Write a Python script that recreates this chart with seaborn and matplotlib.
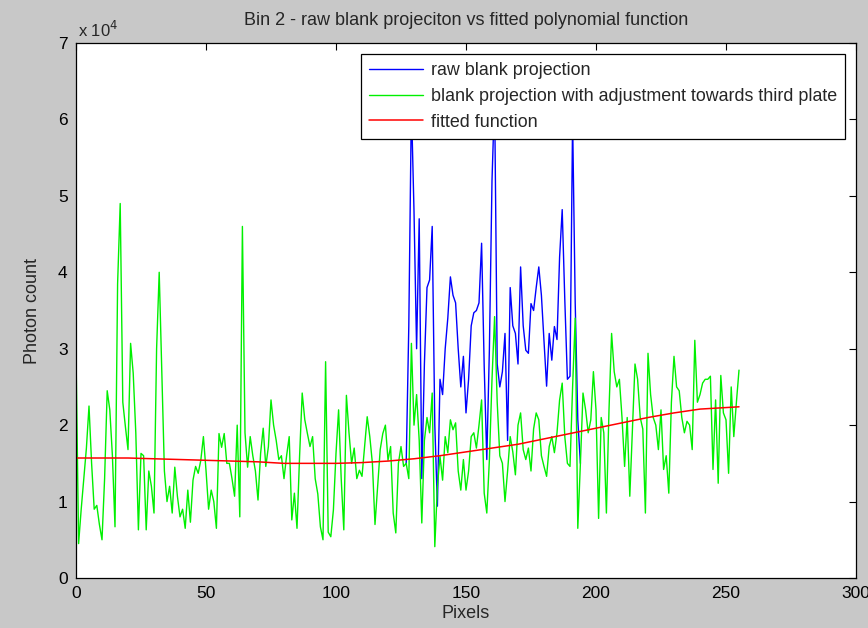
import numpy as np
import pandas as pd
import matplotlib
matplotlib.use("Agg")
import matplotlib.pyplot as plt
import seaborn as sns

# values in units of 1e4 photon counts, one per pixel
green_e4 = [
    2.95, 0.45, 0.9, 1.3, 1.7, 2.25, 1.5, 0.9, 0.95, 0.7,
    0.5, 1.3, 2.45, 2.2, 1.6, 0.67, 3.85, 4.9, 2.3, 1.98,
    1.68, 3.07, 2.68, 1.9, 0.63, 1.63, 1.6, 0.63, 1.4, 1.2,
    0.85, 3.0, 4.0, 2.7, 1.4, 1.0, 1.2, 0.85, 1.45, 1.07,
    0.8, 0.9, 0.65, 1.15, 0.73, 1.28, 1.46, 1.37, 1.54, 1.85,
    1.41, 0.9, 1.15, 1.0, 0.65, 1.89, 1.71, 1.89, 1.5, 1.5,
    1.3, 1.07, 2.0, 0.8, 4.6, 1.9, 1.45, 1.85, 1.6, 1.4,
    1.02, 1.63, 1.96, 1.46, 1.72, 2.33, 2.0, 1.8, 1.55, 1.6,
    1.3, 1.6, 1.85, 0.76, 1.11, 0.65, 1.6, 2.42, 2.07, 1.89,
    1.72, 1.85, 1.3, 1.1, 0.67, 0.5, 2.83, 0.6, 0.54, 0.89,
    1.63, 2.2, 1.3, 0.63, 2.39, 1.9, 1.5, 1.7, 1.3, 1.41,
    1.33, 1.72, 2.11, 1.85, 1.5, 0.7, 1.2, 1.68, 1.89, 2.0,
    1.54, 1.72, 0.85, 0.59, 1.5, 1.72, 1.46, 1.5, 1.3, 3.07,
    2.0, 2.4, 1.8, 0.72, 1.8, 2.1, 1.9, 2.42, 0.41, 1.2,
    1.59, 1.28, 1.85, 1.64, 2.07, 1.94, 2.03, 1.4, 1.15, 1.55,
    1.15, 1.4, 1.85, 1.9, 1.7, 2.0, 2.33, 1.11, 0.85, 1.55,
    2.6, 3.42, 2.3, 1.6, 1.5, 1.0, 1.4, 1.85, 1.65, 1.35,
    2.0, 2.16, 1.68, 1.55, 1.7, 1.4, 1.95, 2.16, 2.07, 1.6,
    1.46, 1.33, 1.72, 1.85, 1.64, 1.9, 2.33, 2.55, 1.85, 1.5,
    1.46, 2.5, 3.4, 0.65, 1.5, 2.42, 2.2, 1.9, 2.07, 2.7,
    2.2, 0.78, 2.1, 1.9, 0.85, 2.2, 3.2, 2.7, 2.5, 2.6,
    2.1, 1.46, 2.1, 1.07, 1.95, 2.8, 2.6, 2.1, 1.95, 0.85,
    2.94, 2.4, 2.1, 2.0, 1.68, 2.2, 1.42, 1.6, 1.11, 2.3,
    2.9, 2.5, 2.45, 2.1, 1.9, 2.05, 2.0, 1.68, 3.11, 2.3,
    2.4, 2.55, 2.6, 2.6, 2.64, 1.42, 2.33, 1.24, 2.65, 2.16,
    2.07, 1.37, 2.5, 1.85, 2.3, 2.72,
]

# raw projection where it differs from the adjusted one (pixels 128..193)
blue_start = 128
blue_mid_e4 = [
    3.3, 6.2, 4.8, 3.0, 4.7, 1.3, 2.8, 3.8, 3.9, 4.6,
    2.0, 0.94, 2.6, 2.4, 3.0, 3.4, 3.94, 3.7, 3.6, 3.0,
    2.5, 2.9, 2.16, 2.6, 3.3, 3.47, 3.5, 3.6, 4.38, 2.77,
    1.55, 3.0, 5.2, 6.3, 2.8, 2.5, 2.7, 3.2, 1.8, 3.8,
    3.3, 3.2, 2.8, 4.07, 3.3, 2.98, 2.94, 3.59, 3.5, 3.8,
    4.07, 3.7, 3.1, 2.51, 3.2, 2.85, 3.29, 3.12, 4.2, 4.82,
    3.64, 2.6, 2.64, 6.0, 3.6, 2.07,
]

# fitted polynomial read at a few pixels
fit_x = [0, 10, 20, 30, 40, 50, 60, 70, 80, 90, 100, 110, 120, 130,
         140, 150, 160, 170, 180, 190, 200, 210, 220, 230, 240, 250, 255]
fit_e4 = [1.57, 1.57, 1.57, 1.56, 1.55, 1.54, 1.53, 1.52, 1.50, 1.50,
          1.50, 1.51, 1.53, 1.56, 1.60, 1.65, 1.70, 1.75, 1.82, 1.89,
          1.96, 2.03, 2.10, 2.16, 2.21, 2.23, 2.24]

labels = ["raw blank projection",
          "blank projection with adjustment towards third plate",
          "fitted function"]

pixels = np.arange(len(green_e4))
green = np.array(green_e4) * 1e4
blue_end = blue_start + len(blue_mid_e4)

# raw curve equals the adjusted one outside the plate region (hidden under green),
# so only the part that differs (plus the joins) is drawn
raw_df = pd.DataFrame({
    "pixel": pixels[blue_start - 1:blue_end + 1],
    "raw": np.concatenate([[green[blue_start - 1]], np.array(blue_mid_e4) * 1e4,
                           [green[blue_end]]]),
})
adj_df = pd.DataFrame({"pixel": pixels, "adjusted": green})
fit_df = pd.DataFrame({"pixel": fit_x, "fit": np.array(fit_e4) * 1e4})

sns.set_style("white")
plt.rcParams["font.family"] = ["Liberation Sans", "DejaVu Sans"]

fig = plt.figure(figsize=(8.68, 6.28), dpi=100, facecolor="#c8c8c8")
ax = fig.add_axes([76 / 868, 50 / 628, 780 / 868, 535 / 628])
ax.set_facecolor("white")

sns.lineplot(data=raw_df, x="pixel", y="raw", color="#0000ff", lw=1.0, ax=ax, label=labels[0])
sns.lineplot(data=adj_df, x="pixel", y="adjusted", color="#00f000", lw=1.0, ax=ax, label=labels[1])
sns.lineplot(data=fit_df, x="pixel", y="fit", color="#ff0000", lw=1.1, ax=ax, label=labels[2])

ax.set_xlim(0, 300)
ax.set_ylim(0, 7e4)
ax.set_xticks(range(0, 301, 50))
ax.set_yticks(np.arange(0, 7.01e4, 1e4))
ax.set_yticklabels([str(i) for i in range(8)])
ax.tick_params(direction="in", length=5, width=0.8, top=True, right=True,
               labelsize=12.5, colors="black", pad=6)
for s in ax.spines.values():
    s.set_visible(True)
    s.set_color("black")
    s.set_linewidth(0.9)

ax.set_xlabel("Pixels", fontsize=13, labelpad=3)
ax.set_ylabel("Photon count", fontsize=13, labelpad=12)
ax.set_title("Bin 2 - raw blank projeciton vs fitted polynomial function",
             fontsize=13, pad=13)
ax.text(0.002, 1.012, r"x 10$^4$", transform=ax.transAxes, fontsize=12)

leg = ax.legend(loc="upper right", fontsize=12.9, frameon=True, fancybox=False,
                edgecolor="black", framealpha=1, handlelength=3.0,
                handletextpad=0.45, borderaxespad=0.6, labelspacing=0.5,
                borderpad=0.45)
leg.get_frame().set_linewidth(0.9)

fig.savefig("out.png", dpi=100, facecolor=fig.get_facecolor())
